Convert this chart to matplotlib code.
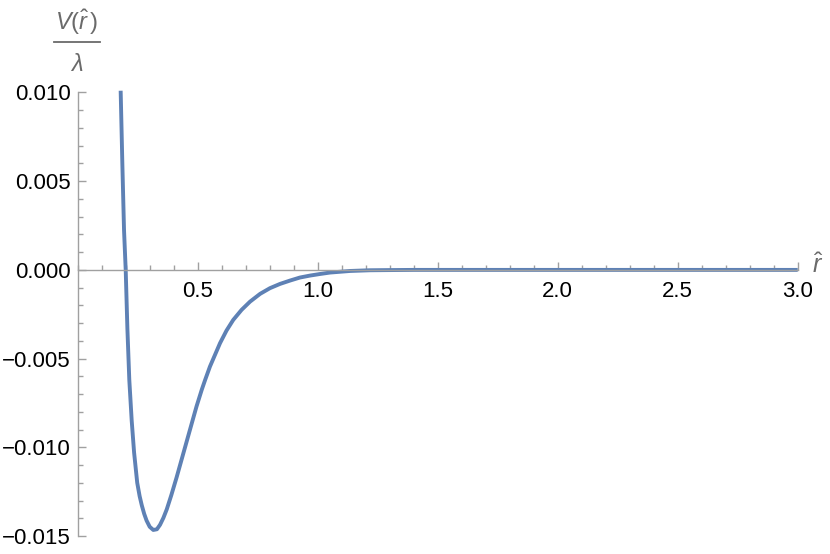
import numpy as np
import matplotlib
matplotlib.use('Agg')
import matplotlib.pyplot as plt
from matplotlib.lines import Line2D
from matplotlib.ticker import MultipleLocator, FuncFormatter

plt.rcParams['font.family'] = ['Liberation Sans', 'DejaVu Sans']
plt.rcParams['mathtext.fontset'] = 'custom'
plt.rcParams['mathtext.rm'] = 'Liberation Sans'
plt.rcParams['mathtext.it'] = 'Liberation Sans:italic'

# values
r_hat = [0.179, 0.186, 0.193, 0.200, 0.207, 0.215, 0.225, 0.235, 0.248,
         0.258, 0.267, 0.277, 0.287, 0.300, 0.315, 0.330, 0.343, 0.357,
         0.371, 0.390, 0.412, 0.440, 0.468, 0.495, 0.517, 0.531, 0.551,
         0.572, 0.593, 0.620, 0.648, 0.683, 0.718, 0.760, 0.801, 0.843,
         0.885, 0.926, 0.968, 1.010, 1.051, 1.135, 1.218, 1.30, 1.40,
         1.70, 2.00, 2.50, 3.00]
v_over_lambda = [0.0101, 0.0060, 0.00225, 0.0, -0.0033, -0.0062, -0.0085,
                 -0.0103, -0.0120, -0.01275, -0.01327, -0.01375, -0.01413,
                 -0.01448, -0.01466, -0.01462, -0.01437, -0.01398, -0.01350,
                 -0.01270, -0.01170, -0.01035, -0.0090, -0.0077, -0.00675,
                 -0.0062, -0.00545, -0.00479, -0.00413, -0.00342, -0.00282,
                 -0.00225, -0.00179, -0.00135, -0.00103, -0.00079, -0.0006,
                 -0.00043, -0.00032, -0.00023, -0.00015, -0.00006, -0.00002,
                 -0.00001, 0.0, 0.0, 0.0, 0.0, 0.0]

x_ticks = [0.5, 1.0, 1.5, 2.0, 2.5, 3.0]
y_ticks = [-0.015, -0.010, -0.005, 0.000, 0.005, 0.010]

axis_col = '#a0a0a0'
label_col = '#6a6a6a'


def fmt(decimals):
    return FuncFormatter(lambda v, pos: f'{v:.{decimals}f}'.replace('-', '\u2212'))


fig = plt.figure(figsize=(8.3, 5.54), dpi=100)
ax = fig.add_axes([77.7/830, 1 - 536/554, 720/830, (536 - 92.5)/554])

ax.plot(r_hat, v_over_lambda, color='#5E81B5', lw=2.8, clip_on=False,
        solid_capstyle='butt', solid_joinstyle='round')

ax.set_xlim(0, 3.0)
ax.set_ylim(-0.015, 0.010)

for s in ['top', 'right']:
    ax.spines[s].set_visible(False)
ax.spines['bottom'].set_position(('data', 0))
ax.spines['left'].set_position(('data', 0))
for s in ['bottom', 'left']:
    ax.spines[s].set_color(axis_col)
    ax.spines[s].set_linewidth(1.0)

ax.set_xticks(x_ticks)
ax.set_yticks(y_ticks)
ax.xaxis.set_minor_locator(MultipleLocator(0.1))
ax.yaxis.set_minor_locator(MultipleLocator(0.001))
ax.xaxis.set_major_formatter(fmt(1))
ax.yaxis.set_major_formatter(fmt(3))

ax.tick_params(which='both', direction='in', color=axis_col, width=1.0,
               labelsize=16, labelcolor='black')
ax.tick_params(which='major', length=5.5)
ax.tick_params(which='minor', length=3.5)
ax.tick_params(axis='x', pad=8)
ax.tick_params(axis='y', pad=5)

# axis labels, Mathematica style
ax.annotate(r'$\hat{r}$', xy=(3.0, 0), xytext=(10, -2), textcoords='offset points',
            ha='left', va='baseline', fontsize=18, color=label_col)

fig.text(77/830, 1 - 22/554, r'$V(\hat{r}\,)$', ha='center', va='center',
         fontsize=17, color=label_col)
fig.text(77/830, 1 - 65/554, r'$\lambda$', ha='center', va='center',
         fontsize=17, color=label_col)
fig.add_artist(Line2D([54/830, 100/830], [1 - 42/554, 1 - 42/554],
                      color=label_col, lw=1.3))

fig.savefig('out.png', dpi=100)
